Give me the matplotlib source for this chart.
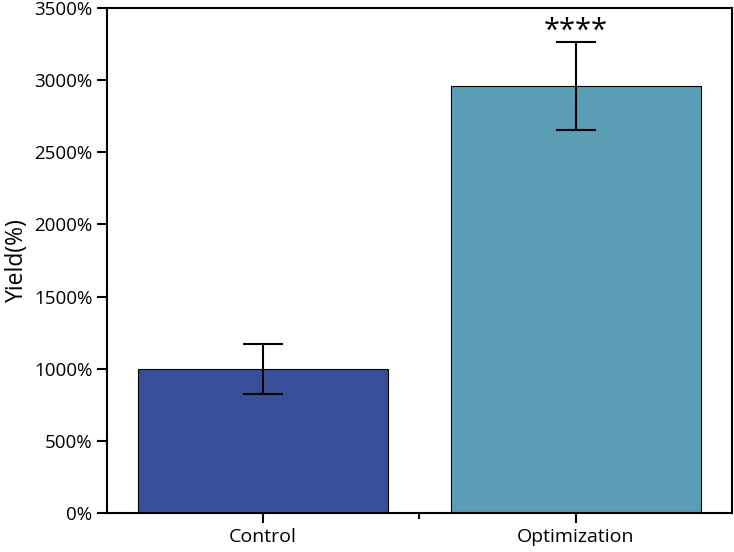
import matplotlib
matplotlib.use("Agg")
import matplotlib.pyplot as plt
from matplotlib.ticker import FuncFormatter, MultipleLocator, FixedLocator

categories = ["Control", "Optimization"]
values = [1000, 2960]
errors = [173, 305]
colors = ["#374F98", "#5A9DB5"]
significance = ["", "****"]

plt.rcParams['font.family'] = ['Open Sans', 'DejaVu Sans']

fig = plt.figure(figsize=(7.34, 5.52), dpi=100)
ax = fig.add_axes([0.1451, 0.0707, 0.8522, 0.9148])

x = list(range(len(categories)))
ax.bar(x, values, width=0.8, color=colors, edgecolor="black", linewidth=0.8, zorder=2)
ax.errorbar(x, values, yerr=errors, fmt="none", ecolor="black", elinewidth=1.5,
            capsize=14.5, capthick=1.5, zorder=3)
for xi, v, e, s in zip(x, values, errors, significance):
    if s:
        ax.text(xi, v + e - 30, s, ha="center", va="bottom", fontsize=21)

ax.set_xlim(-0.5, 1.5)
ax.set_ylim(0, 3500)
ax.yaxis.set_major_locator(MultipleLocator(500))
ax.yaxis.set_major_formatter(FuncFormatter(lambda v, p: f"{int(v)}%"))
ax.set_xticks(x)
ax.set_xticklabels(categories)
ax.xaxis.set_minor_locator(FixedLocator([0.5]))
ax.set_ylabel("Yield(%)", fontsize=16.5, labelpad=4)

for sp in ax.spines.values():
    sp.set_linewidth(1.5)
ax.tick_params(axis="y", which="major", direction="out", length=7, width=1.5, labelsize=13.5, pad=3)
ax.tick_params(axis="x", which="major", direction="out", length=7, width=1.5, labelsize=14, pad=4)
ax.tick_params(axis="x", which="minor", direction="out", length=4, width=1.5)

fig.savefig("out.png", dpi=100)
